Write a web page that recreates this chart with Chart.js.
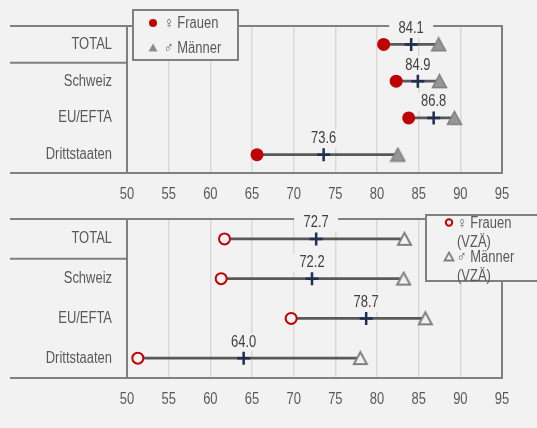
<!DOCTYPE html>
<html lang="de">
<head>
<meta charset="utf-8">
<script src="https://cdn.jsdelivr.net/npm/chart.js@4.4.1/dist/chart.umd.min.js"></script>
<style>
  html, body { margin: 0; padding: 0; background: #f2f2f2; }
  canvas { display: block; }
</style>
</head>
<body>
<canvas id="chartOben" width="537" height="207"></canvas>
<canvas id="chartUnten" width="537" height="221"></canvas>
<script>
const kategorien = ['TOTAL', 'Schweiz', 'EU/EFTA', 'Drittstaaten'];
const achseMin = 50, achseMax = 95, achseSchritt = 5;

// oberes Panel
const frauen  = [80.8, 82.3, 83.8, 65.6];
const maenner = [87.4, 87.5, 89.3, 82.5];
const total   = [84.1, 84.9, 86.8, 73.6];

// unteres Panel (VZÄ)
const frauenVZAE  = [61.7, 61.3, 69.7, 51.3];
const maennerVZAE = [83.3, 83.2, 85.8, 78.0];
const totalVZAE   = [72.7, 72.2, 78.7, 64.0];

const legendeOben  = [['♀ Frauen'], ['♂ Männer']];
const legendeUnten = [['♀ Frauen', '(VZÄ)'], ['♂ Männer', '(VZÄ)']];

const ROT = '#c00000', RAHMEN = '#808080', GITTER = '#d9d9d9', TEXT = '#595959';
const LABEL = '#404040', KREUZ = '#1f2f4d', LINIE = '#595959', HG = '#f2f2f2';
const FONT = "'Liberation Sans Narrow', 'Arial Narrow', 'Liberation Sans', sans-serif";

// keine schmale Schrift installiert: Text horizontal stauchen
function schmal(canvas, faktor) {
  const ctx = canvas.getContext('2d');
  const orig = ctx.fillText.bind(ctx);
  ctx.fillText = function (text, x, y) {
    this.save();
    this.translate(x, y);
    this.scale(faktor, 1);
    orig(text, 0, 0);
    this.restore();
  };
}

function dreieck(fill, stroke, w, h, lw) {
  const c = document.createElement('canvas');
  c.width = w + lw * 2; c.height = h + lw * 2;
  const ctx = c.getContext('2d');
  ctx.beginPath();
  ctx.moveTo(c.width / 2, lw);
  ctx.lineTo(c.width - lw, c.height - lw);
  ctx.lineTo(lw, c.height - lw);
  ctx.closePath();
  ctx.fillStyle = fill; ctx.fill();
  ctx.lineWidth = lw; ctx.strokeStyle = stroke; ctx.stroke();
  return c;
}

function markerZeichnen(ctx, art, x, y) {
  ctx.beginPath();
  if (art === 'punkt') {
    ctx.arc(x, y, 4, 0, Math.PI * 2);
    ctx.fillStyle = ROT; ctx.fill();
  } else if (art === 'kreis') {
    ctx.arc(x, y, 3.2, 0, Math.PI * 2);
    ctx.lineWidth = 2; ctx.strokeStyle = ROT; ctx.stroke();
  } else {
    ctx.moveTo(x, y - 4.5); ctx.lineTo(x + 4.5, y + 3.5); ctx.lineTo(x - 4.5, y + 3.5); ctx.closePath();
    if (art === 'dreieck') { ctx.fillStyle = '#8c8c8c'; ctx.fill(); }
    else { ctx.lineWidth = 1.8; ctx.strokeStyle = RAHMEN; ctx.stroke(); }
  }
}

const rahmenPlugin = {
  id: 'rahmen',
  beforeDatasetsDraw(chart, args, opts) {
    const { ctx, chartArea: a, scales: { x, y } } = chart;
    ctx.save();
    ctx.strokeStyle = RAHMEN; ctx.lineWidth = 2;
    ctx.beginPath();
    [a.top, a.bottom].forEach(yy => { ctx.moveTo(10, yy); ctx.lineTo(a.right + 1, yy); });
    const trenn = y.getPixelForValue(0.5);
    ctx.moveTo(10, trenn); ctx.lineTo(a.left, trenn);
    ctx.stroke();
    // Hintergrund der Werte-Beschriftung verdeckt Rahmen und Gitter
    ctx.fillStyle = HG;
    chart.data.datasets[3].data.forEach((v, i) => {
      const px = x.getPixelForValue(v), py = y.getPixelForValue(i) - 16;
      ctx.fillRect(px - 22, py - 9, 44, 18);
    });
    ctx.restore();
  },
  afterDatasetsDraw(chart) {
    const { ctx, scales: { x, y } } = chart;
    ctx.save();
    ctx.font = `16px ${FONT}`;
    ctx.fillStyle = LABEL; ctx.textAlign = 'center'; ctx.textBaseline = 'middle';
    chart.data.datasets[3].data.forEach((v, i) => {
      ctx.fillText(v.toFixed(1), x.getPixelForValue(v), y.getPixelForValue(i) - 16);
    });
    ctx.restore();
  },
  afterDraw(chart, args, opts) {
    const { ctx } = chart;
    const L = opts.legende;
    ctx.save();
    ctx.fillStyle = HG; ctx.fillRect(...L.box);
    ctx.strokeStyle = RAHMEN; ctx.lineWidth = 2; ctx.strokeRect(...L.box);
    ctx.font = `16px ${FONT}`;
    ctx.textBaseline = 'middle';
    L.eintraege.forEach((zeilen, i) => {
      const y0 = L.startY + i * L.abstand;
      markerZeichnen(ctx, L.marker[i], L.markerX, y0);
      ctx.fillStyle = TEXT;
      zeilen.forEach((t, j) => ctx.fillText(t, L.textX, y0 + 1 + j * L.zeile));
    });
    ctx.restore();
  }
};

function panel(id, f, m, t, offen, padTop, hoeheX, legende) {
  const canvas = document.getElementById(id);
  schmal(canvas, 0.81);
  return new Chart(canvas, {
    type: 'bar',
    data: {
      labels: kategorien,
      datasets: [
        { type: 'bar', data: f.map((v, i) => [v, m[i]]), backgroundColor: LINIE,
          barThickness: 2, borderWidth: 0, order: 3 },
        { type: 'line', data: f, showLine: false, pointStyle: 'circle',
          pointRadius: offen ? 5.5 : 6.5, pointBackgroundColor: offen ? HG : ROT,
          pointBorderColor: ROT, pointBorderWidth: offen ? 2 : 0, order: 2 },
        { type: 'line', data: m, showLine: false, pointRadius: 8,
          pointStyle: offen ? dreieck(HG, RAHMEN, 13, 12, 2) : dreieck('#969696', '#7f7f7f', 14, 13, 1.5),
          order: 1 },
        { type: 'line', data: t, showLine: false, pointStyle: 'cross', pointRadius: 6.5,
          pointBorderColor: KREUZ, pointBorderWidth: 2.5, order: 0 }
      ]
    },
    options: {
      responsive: false,
      animation: false,
      indexAxis: 'y',
      layout: { autoPadding: false, padding: { top: padTop, right: 35, left: 0, bottom: 0 } },
      plugins: {
        legend: { display: false },
        tooltip: { enabled: false },
        rahmen: { legende }
      },
      scales: {
        x: {
          type: 'linear', min: achseMin, max: achseMax,
          ticks: { stepSize: achseSchritt, color: TEXT, font: { family: FONT, size: 16 }, padding: 12 },
          grid: {
            drawTicks: false,
            color: c => (c.tick.value === achseMin || c.tick.value === achseMax) ? RAHMEN : GITTER,
            lineWidth: c => (c.tick.value === achseMin || c.tick.value === achseMax) ? 2 : 1.5
          },
          border: { display: false },
          afterFit: s => { s.height = hoeheX; }
        },
        y: {
          type: 'category', offset: true,
          ticks: { color: TEXT, font: { family: FONT, size: 16 }, padding: 15 },
          grid: { display: false, drawTicks: false },
          border: { display: false },
          afterFit: s => { s.width = 127; s.paddingTop = 0; s.paddingBottom = 0; }
        }
      }
    },
    plugins: [rahmenPlugin]
  });
}

panel('chartOben', frauen, maenner, total, false, 26, 34, {
  box: [133, 10, 105, 50], markerX: 153, textX: 164, startY: 23, abstand: 25, zeile: 0,
  marker: ['punkt', 'dreieck'], eintraege: legendeOben
});
panel('chartUnten', frauenVZAE, maennerVZAE, totalVZAE, true, 12, 50, {
  box: [426, 8, 120, 66], markerX: 449, textX: 457, startY: 15.5, abstand: 34.5, zeile: 19,
  marker: ['kreis', 'offen'], eintraege: legendeUnten
});
</script>
</body>
</html>
